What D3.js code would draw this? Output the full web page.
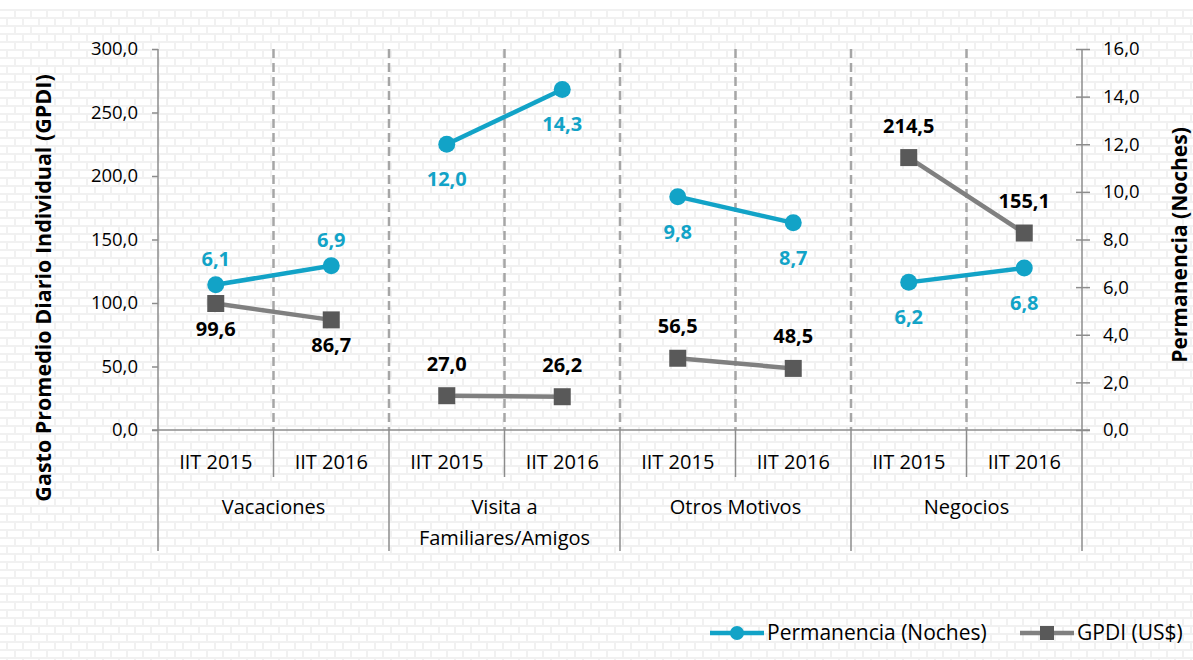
<!DOCTYPE html>
<html>
<head>
<meta charset="utf-8">
<script src="https://cdn.jsdelivr.net/npm/d3@7"></script>
<style>
  html, body { margin: 0; padding: 0; background: #fff; }
  svg { display: block; font-family: "Open Sans", sans-serif; }
</style>
</head>
<body>
<svg id="chart" width="1193" height="660"></svg>
<script>
// ---- data ----
const groups = ["Vacaciones", "Visita a\nFamiliares/Amigos", "Otros Motivos", "Negocios"];
const periods = ["IIT 2015", "IIT 2016"];
const permanencia = [6.1, 6.9, 12.0, 14.3, 9.8, 8.7, 6.2, 6.8];
const gpdi = [99.6, 86.7, 27.0, 26.2, 56.5, 48.5, 214.5, 155.1];
const leftTicks = [0, 50, 100, 150, 200, 250, 300];
const rightTicks = [0, 2, 4, 6, 8, 10, 12, 14, 16];
const seriesNames = ["Permanencia (Noches)", "GPDI (US$)"];
// label placement (layout, not data)
const permLabelSide = ["above", "above", "below", "below", "below", "below", "below", "below"];
const gpdiLabelSide = ["below", "below", "above", "above", "above", "above", "above", "above"];

const teal = "#12a3c7";
const grayLine = "#808080";
const grayMark = "#595959";
const axisColor = "#8c8c8c";
const FS = 20;        // category text
const FL = 21;        // legend text
const FT = 18.5;      // tick labels
const FD = 20;        // data labels
const fmt = d => d3.format(".1f")(d).replace(".", ",");

const svg = d3.select("#chart");

// brick background
const defs = svg.append("defs");
const brick = "#f1f1f1";
const pat = defs.append("pattern").attr("id", "brick").attr("patternUnits", "userSpaceOnUse")
  .attr("width", 16).attr("height", 16).attr("x", 0).attr("y", 9);
pat.append("rect").attr("width", 16).attr("height", 16).attr("fill", "#fff");
pat.append("rect").attr("x", 0).attr("y", 0).attr("width", 16).attr("height", 2).attr("fill", brick);
pat.append("rect").attr("x", 0).attr("y", 8).attr("width", 16).attr("height", 2).attr("fill", brick);
pat.append("rect").attr("x", 14).attr("y", 0).attr("width", 2).attr("height", 8).attr("fill", brick);
pat.append("rect").attr("x", 6).attr("y", 8).attr("width", 2).attr("height", 8).attr("fill", brick);
svg.append("rect").attr("x", 0).attr("y", 9).attr("width", 1193).attr("height", 651).attr("fill", "url(#brick)");

const L = 158, R = 1082, T = 49, B = 430, BOT = 551;
const idx = d3.range(permanencia.length);
const x = d3.scaleBand().domain(idx).range([L, R]);
const yL = d3.scaleLinear().domain([0, 300]).range([B, T]);
const yR = d3.scaleLinear().domain([0, 16]).range([B, T]);

// dashed gridlines between categories
const seps = d3.range(1, idx.length).map(i => x(i));
svg.append("g").selectAll("line").data(seps).join("line")
  .attr("x1", d => d).attr("x2", d => d).attr("y1", T).attr("y2", B)
  .attr("stroke", "#a6a6a6").attr("stroke-width", 2.5).attr("stroke-dasharray", "9,5");

// category axis lines
const catG = svg.append("g");
catG.append("line").attr("x1", L - 6).attr("x2", R + 8).attr("y1", B).attr("y2", B)
  .attr("stroke", axisColor).attr("stroke-width", 1.5);
catG.selectAll("line.sep").data(seps).join("line").attr("class", "sep")
  .attr("x1", d => d).attr("x2", d => d).attr("y1", B)
  .attr("y2", (d, i) => (i % 2 === 1) ? BOT : 477)
  .attr("stroke", axisColor).attr("stroke-width", 1.5);
[L, R].forEach(xx => catG.append("line").attr("x1", xx).attr("x2", xx).attr("y1", T).attr("y2", BOT)
  .attr("stroke", axisColor).attr("stroke-width", 1.5));

// period labels
catG.selectAll("text.per").data(idx).join("text").attr("class", "per")
  .attr("x", d => x(d) + x.bandwidth() / 2).attr("y", 469)
  .attr("text-anchor", "middle").attr("font-size", FS).attr("fill", "#000")
  .text(d => periods[d % 2]);
// group labels
groups.forEach((g, gi) => {
  const cx = x(gi * 2) + x.bandwidth();
  const lines = g.split("\n");
  const t = catG.append("text").attr("text-anchor", "middle").attr("font-size", FS).attr("fill", "#000");
  lines.forEach((ln, li) => t.append("tspan").attr("x", cx).attr("y", 514 + li * 31).text(ln));
});

// left axis
const axL = svg.append("g").attr("transform", `translate(${L},0)`)
  .call(d3.axisLeft(yL).tickValues(leftTicks).tickFormat(fmt).tickSize(6).tickSizeOuter(0).tickPadding(14));
axL.select(".domain").remove();
axL.selectAll("line").attr("stroke", axisColor).attr("stroke-width", 1.5);
axL.selectAll("text").attr("font-size", FT).attr("fill", "#000").attr("font-family", "'Open Sans', sans-serif");

// right axis
const axR = svg.append("g").attr("transform", `translate(${R},0)`)
  .call(d3.axisRight(yR).tickValues(rightTicks).tickFormat(fmt).tickSize(8).tickSizeOuter(0).tickPadding(13));
axR.select(".domain").remove();
axR.selectAll("line").attr("x1", -6).attr("stroke", axisColor).attr("stroke-width", 1.5);
axR.selectAll("text").attr("font-size", FT).attr("fill", "#000").attr("font-family", "'Open Sans', sans-serif");

// axis titles
svg.append("text").attr("transform", "translate(51,288) rotate(-90)").attr("text-anchor", "middle")
  .attr("font-size", 21.5).attr("font-weight", "bold").attr("fill", "#000")
  .text("Gasto Promedio Diario Individual (GPDI)");
svg.append("text").attr("transform", "translate(1187,245) rotate(-90)").attr("text-anchor", "middle")
  .attr("font-size", 21).attr("font-weight", "bold").attr("fill", "#000")
  .text("Permanencia (Noches)");

// series lines (each group separately)
const cx = i => x(i) + x.bandwidth() / 2;
const pairs = d3.range(groups.length).map(g => [g * 2, g * 2 + 1]);
const lineG = d3.line().x(i => cx(i)).y(i => yL(gpdi[i]));
const lineP = d3.line().x(i => cx(i)).y(i => yR(permanencia[i]));

svg.append("g").selectAll("path").data(pairs).join("path")
  .attr("d", lineG).attr("fill", "none").attr("stroke", grayLine).attr("stroke-width", 4.5);
svg.append("g").selectAll("rect").data(idx).join("rect")
  .attr("x", i => cx(i) - 8.5).attr("y", i => yL(gpdi[i]) - 8.5).attr("width", 17).attr("height", 17)
  .attr("fill", grayMark);

svg.append("g").selectAll("path").data(pairs).join("path")
  .attr("d", lineP).attr("fill", "none").attr("stroke", teal).attr("stroke-width", 4.5);
svg.append("g").selectAll("circle").data(idx).join("circle")
  .attr("cx", cx).attr("cy", i => yR(permanencia[i])).attr("r", 8.5).attr("fill", teal);

// data labels
svg.append("g").selectAll("text").data(idx).join("text")
  .attr("x", cx)
  .attr("y", i => yR(permanencia[i]) + (permLabelSide[i] === "above" ? -19 : 42))
  .attr("text-anchor", "middle").attr("font-size", FD).attr("font-weight", "bold").attr("fill", teal)
  .text(i => fmt(permanencia[i]));
svg.append("g").selectAll("text").data(idx).join("text")
  .attr("x", cx)
  .attr("y", i => yL(gpdi[i]) + (gpdiLabelSide[i] === "above" ? -25 : 32))
  .attr("text-anchor", "middle").attr("font-size", FD).attr("font-weight", "bold").attr("fill", "#000")
  .text(i => fmt(gpdi[i]));

// legend
const leg = svg.append("g");
const legItems = [
  { name: seriesNames[0], x0: 710, color: teal, mark: "circle" },
  { name: seriesNames[1], x0: 1020, color: grayLine, mark: "rect" }
];
legItems.forEach(it => {
  const ly = 633;
  leg.append("line").attr("x1", it.x0).attr("x2", it.x0 + 54).attr("y1", ly).attr("y2", ly)
    .attr("stroke", it.color).attr("stroke-width", 4.5);
  if (it.mark === "circle") {
    leg.append("circle").attr("cx", it.x0 + 27).attr("cy", ly).attr("r", 7).attr("fill", teal);
  } else {
    leg.append("rect").attr("x", it.x0 + 27 - 7).attr("y", ly - 7).attr("width", 14).attr("height", 14).attr("fill", grayMark);
  }
  leg.append("text").attr("x", it.x0 + 57).attr("y", ly + 7).attr("font-size", FL).attr("fill", "#000").text(it.name);
});
</script>
</body>
</html>
